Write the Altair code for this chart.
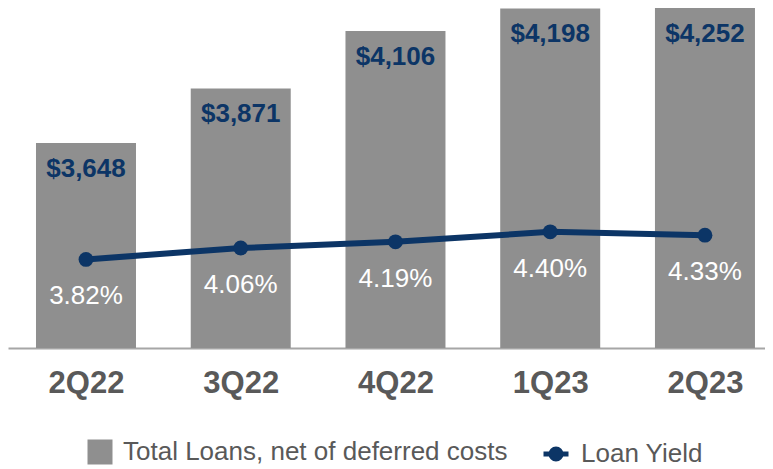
import json
import altair as alt
import pandas as pd

# ---- data ----
quarters = ["2Q22", "3Q22", "4Q22", "1Q23", "2Q23"]
total_loans = [3648, 3871, 4106, 4198, 4252]
loan_yield = [3.82, 4.06, 4.19, 4.40, 4.33]
series_names = ["Total Loans, net of deferred costs", "Loan Yield"]

GRAY = "#8f8f8f"
NAVY = "#0c3566"
TEXT_GRAY = "#595959"
FONT = "Liberation Sans"

df = pd.DataFrame({
    "idx": list(range(len(quarters))),
    "quarter": quarters,
    "loans": total_loans,
    "yield": loan_yield,
    "bar_series": [series_names[0]] * len(quarters),
    "line_series": [series_names[1]] * len(quarters),
})

x_enc = alt.X(
    "idx:Q",
    scale=alt.Scale(domain=[-0.504, 4.388], nice=False, zero=False, padding=0),
    axis=alt.Axis(
        values=list(range(len(quarters))),
        labelExpr=f"{json.dumps(quarters)}[datum.value]",
        title=None, grid=False, ticks=False, tickSize=0,
        domainColor="#a6a6a6", domainWidth=2,
        labelFont=FONT, labelFontWeight="bold", labelFontSize=31,
        labelColor=TEXT_GRAY, labelPadding=20, labelOverlap=False,
        labelFlush=False, labelBound=False,
    ),
)

loan_scale = alt.Scale(domain=[2810, 4200], clamp=True, zero=False, nice=False)
yield_scale = alt.Scale(domain=[1.96, 9.1], zero=False, nice=False)

legend_common = dict(
    orient="none", direction="horizontal", title=None, symbolSize=625,
    labelFontSize=26, labelFont=FONT, labelColor=TEXT_GRAY, labelOffset=10,
    labelLimit=600, padding=0,
)
line_path = "M-1,0L1,0M0.4,0A0.4,0.4,0,1,1,-0.4,0A0.4,0.4,0,1,1,0.4,0Z"

base = alt.Chart(df)

bars = base.mark_bar(size=100).encode(
    x=x_enc,
    y=alt.Y("loans:Q", scale=loan_scale, axis=None),
    fill=alt.Fill(
        "bar_series:N",
        scale=alt.Scale(domain=[series_names[0]], range=[GRAY]),
        legend=alt.Legend(legendX=79, legendY=431, symbolType="square",
                          symbolStrokeWidth=0, symbolOpacity=1, **legend_common),
    ),
)

bar_labels = base.mark_text(
    dy=26, baseline="middle", font=FONT, fontWeight="bold", fontSize=26, color=NAVY
).encode(
    x=x_enc,
    y=alt.Y("loans:Q", scale=loan_scale, axis=None),
    text=alt.Text("loans:Q", format="$,.0f"),
)

line = base.mark_line(strokeWidth=6).encode(
    x=x_enc,
    y=alt.Y("yield:Q", scale=yield_scale, axis=None),
    stroke=alt.Stroke(
        "line_series:N",
        scale=alt.Scale(domain=[series_names[1]], range=[NAVY]),
        legend=alt.Legend(legendX=533, legendY=431, symbolType=line_path,
                          symbolStrokeWidth=5, symbolFillColor=NAVY,
                          symbolStrokeColor=NAVY, symbolOpacity=1, **legend_common),
    ),
)

points = base.mark_circle(size=220, opacity=1, color=NAVY).encode(
    x=x_enc,
    y=alt.Y("yield:Q", scale=yield_scale, axis=None),
)

yield_labels = base.transform_calculate(
    ylabel="format(datum.yield, '.2f') + '%'"
).mark_text(
    dy=37, baseline="middle", font=FONT, fontSize=26, color="white"
).encode(
    x=x_enc,
    y=alt.Y("yield:Q", scale=yield_scale, axis=None),
    text="ylabel:N",
)

chart = alt.layer(
    alt.layer(bars, bar_labels),
    alt.layer(line, points, yield_labels),
).resolve_scale(y="independent").properties(
    width=757, height=340, padding=0, background="white"
).configure_view(stroke=None)

chart.save("out.html", embed_options={"renderer": "svg", "actions": False})
